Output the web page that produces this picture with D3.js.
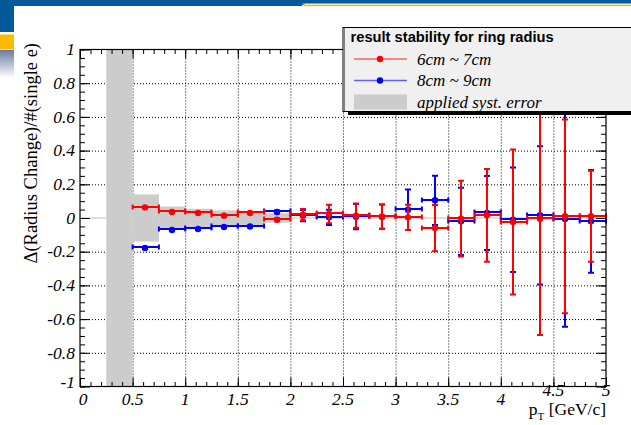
<!DOCTYPE html>
<meta charset="utf-8">
<script src="https://d3js.org/d3.v7.min.js"></script>
<style>
  body { margin: 0; background: #fff; }
  svg { display: block; }
</style>
<div id="chart"></div>
<script>

// bins in pT (lower edges, width 0.25) and mean pT of each bin
var binLo = [0.5, 0.75, 1.0, 1.25, 1.5, 1.75, 2.0, 2.25, 2.5, 2.75, 3.0, 3.25, 3.5, 3.75, 4.0, 4.25, 4.5, 4.75];
var binW = 0.25;
var ptMean = [0.62, 0.87, 1.12, 1.37, 1.62, 1.87, 2.12, 2.37, 2.62, 2.87, 3.12, 3.37, 3.62, 3.87, 4.12, 4.37, 4.61, 4.86];

// 6cm ~ 7cm
var red = [0.063, 0.036, 0.030, 0.014, 0.030, -0.010, 0.020, 0.024, 0.014, 0.008, 0.004, -0.060, -0.004, 0.016, -0.024, -0.004, 0.010, 0.010];
var redErr = [0.004, 0.004, 0.004, 0.004, 0.004, 0.008, 0.033, 0.055, 0.072, 0.072, 0.075, 0.137, 0.225, 0.275, 0.43, 0.69, 0.575, 0.27];
// 8cm ~ 9cm
var blue = [-0.178, -0.071, -0.065, -0.053, -0.050, 0.036, 0.014, 0.004, 0.008, 0.008, 0.049, 0.105, -0.020, 0.030, -0.010, 0.016, -0.006, -0.020];
var blueErr = [0.004, 0.004, 0.004, 0.004, 0.004, 0.008, 0.033, 0.045, 0.075, 0.072, 0.12, 0.146, 0.2, 0.22, 0.31, 0.41, 0.64, 0.305];

// applied systematic error band (step edges and half widths)
var sysEdges = [0.25, 0.5, 0.75, 1.0, 1.25, 1.5, 1.75, 2.0];
var sysVal = [1.0, 0.14, 0.068, 0.055, 0.045, 0.043, 0.028];

var xTicks = [0, 0.5, 1, 1.5, 2, 2.5, 3, 3.5, 4, 4.5, 5];
var yTicks = [-1, -0.8, -0.6, -0.4, -0.2, 0, 0.2, 0.4, 0.6, 0.8, 1];

var W = 631, H = 425;
var margin = {top: 49.5, right: 25, bottom: 38.5, left: 80};
var width = W - margin.left - margin.right,
    height = H - margin.top - margin.bottom;

var svg = d3.select("#chart").append("svg")
  .attr("width", W).attr("height", H);

// slide decoration
svg.append("rect").attr("x", 0).attr("y", 0).attr("width", 302).attr("height", 6).attr("fill", "#035a9b");
svg.append("rect").attr("x", 300).attr("y", 0).attr("width", 331).attr("height", 3.5).attr("fill", "#035a9b");
svg.append("path").attr("d", "M300,6 L306,3.5 L300,3.5 Z").attr("fill", "#035a9b");
svg.append("rect").attr("x", 304).attr("y", 4.6).attr("width", 327).attr("height", 1.6).attr("fill", "#f5b915");
svg.append("rect").attr("x", 0).attr("y", 0).attr("width", 14).attr("height", 32).attr("fill", "#035a9b");
svg.append("rect").attr("x", 0).attr("y", 34.5).attr("width", 14).attr("height", 15).attr("fill", "#fbb900");
var grad = svg.append("defs").append("linearGradient").attr("id", "fade")
  .attr("x1", 0).attr("y1", 0).attr("x2", 0).attr("y2", 1);
grad.append("stop").attr("offset", "0%").attr("stop-color", "#6a7aa0");
grad.append("stop").attr("offset", "100%").attr("stop-color", "#ffffff");
svg.append("rect").attr("x", 0).attr("y", 50).attr("width", 14).attr("height", 28).attr("fill", "url(#fade)");

var g = svg.append("g").attr("transform", "translate(" + margin.left + "," + margin.top + ")");

var x = d3.scaleLinear().domain([0, 5]).range([0, width]);
var y = d3.scaleLinear().domain([-1, 1]).range([height, 0]);

// grid
g.append("g").attr("class", "grid")
  .attr("transform", "translate(0," + height + ")")
  .call(d3.axisBottom(x).tickValues(xTicks.slice(1, -1)).tickSize(-height).tickFormat(""))
  .select(".domain").remove();
g.append("g").attr("class", "grid")
  .call(d3.axisLeft(y).tickValues(yTicks.filter(function (v) { return v !== 0 && Math.abs(v) < 1; })).tickSize(-width).tickFormat(""))
  .select(".domain").remove();
g.selectAll(".grid line").attr("stroke", "#555").attr("stroke-dasharray", "1,2").attr("stroke-width", 1);

// zero line
g.append("line").attr("x1", 0).attr("x2", width).attr("y1", y(0)).attr("y2", y(0))
  .attr("stroke", "#c0c0c0").attr("stroke-width", 1.2);

// syst band
var band = [];
for (var i = 0; i < sysVal.length; i++) band.push({x0: sysEdges[i], x1: sysEdges[i + 1], v: sysVal[i]});
g.append("g").selectAll("rect").data(band).enter().append("rect")
  .attr("x", function (d) { return x(d.x0); })
  .attr("width", function (d) { return x(d.x1) - x(d.x0); })
  .attr("y", function (d) { return y(d.v); })
  .attr("height", function (d) { return y(-d.v) - y(d.v); })
  .attr("fill", "#cccccc");

// data series (line positions snapped to whole pixels so overlapping bars stay opaque)
function drawSeries(vals, errs, color) {
  var pts = vals.map(function (v, i) {
    return {lo: binLo[i], hi: binLo[i] + binW, x: ptMean[i], y: v, e: errs[i]};
  });
  var s = g.append("g").attr("stroke", color).attr("stroke-width", 2).attr("fill", "none");
  var oy = margin.top % 1;
  s.selectAll(".h").data(pts).enter().append("path")
    .attr("d", function (d) {
      var yy = Math.round(y(d.y)) - oy, a = x(d.lo), b = x(d.hi);
      return "M" + a + "," + yy + "H" + b +
             "M" + a + "," + (yy - 2.5) + "V" + (yy + 2.5) +
             "M" + b + "," + (yy - 2.5) + "V" + (yy + 2.5);
    });
  s.selectAll(".v").data(pts).enter().append("path")
    .attr("d", function (d) {
      var xx = Math.round(x(d.x)), t = y(d.y + d.e), b = y(d.y - d.e);
      return "M" + xx + "," + t + "V" + b +
             "M" + (xx - 3) + "," + t + "H" + (xx + 3) +
             "M" + (xx - 3) + "," + b + "H" + (xx + 3);
    });
  g.append("g").selectAll("circle").data(pts).enter().append("circle")
    .attr("cx", function (d) { return Math.round(x(d.x)); })
    .attr("cy", function (d) { return y(d.y); })
    .attr("r", 3.2)
    .attr("fill", color);
}
drawSeries(blue, blueErr, "#0000ff");
drawSeries(red, redErr, "#ff0000");

// frame + inward ticks on all four sides
function ticks(axis, tr, minor, major, sizeMinor, sizeMajor) {
  var a1 = g.append("g").attr("transform", tr)
    .call(axis(minor).tickSize(sizeMinor).tickFormat(""));
  a1.select(".domain").remove();
  var a2 = g.append("g").attr("transform", tr)
    .call(axis(major).tickSize(sizeMajor).tickFormat(""));
  a2.select(".domain").remove();
}
var xMinor = d3.range(0, 51).map(function (i) { return i / 10; });
var yMinor = d3.range(0, 41).map(function (i) { return -1 + i * 0.05; });
ticks(function (v) { return d3.axisBottom(x).tickValues(v); }, "translate(0," + height + ")", xMinor, xTicks, -4.5, -9);
ticks(function (v) { return d3.axisTop(x).tickValues(v); }, "translate(0,0)", xMinor, xTicks, -4.5, -9);
ticks(function (v) { return d3.axisLeft(y).tickValues(v); }, "translate(0,0)", yMinor, yTicks, -5, -10);
ticks(function (v) { return d3.axisRight(y).tickValues(v); }, "translate(" + width + ",0)", yMinor, yTicks, -5, -10);
g.selectAll(".tick line").attr("stroke", "#000").attr("stroke-width", 1);

g.append("rect").attr("width", width).attr("height", height)
  .attr("fill", "none").attr("stroke", "#000").attr("stroke-width", 1.2);

// tick labels
var lab = g.append("g").attr("font-family", "'Liberation Serif', serif").attr("font-style", "italic")
  .attr("font-size", 17.5).attr("fill", "#000");
lab.selectAll(".xl").data(xTicks).enter().append("text")
  .attr("x", function (d) { return x(d) + (d === 0 ? 3 : 0); })
  .attr("y", function (d) { return height + (d === 4.5 || d === 5 ? 9 : 18); })
  .attr("text-anchor", "middle")
  .text(function (d) { return d; });
lab.selectAll(".yl").data(yTicks).enter().append("text")
  .attr("x", -5)
  .attr("y", function (d) { return y(d); })
  .attr("dy", function (d) { return d === -1 ? "0.1em" : "0.33em"; })
  .attr("text-anchor", "end")
  .text(function (d) { return d; });

// axis titles
var xt = g.append("text").attr("x", width).attr("y", height + 28)
  .attr("text-anchor", "end")
  .attr("font-family", "'Liberation Serif', serif").attr("font-size", 17.5);
xt.append("tspan").text("p");
xt.append("tspan").attr("font-size", 11).attr("dy", 5).text("T");
xt.append("tspan").attr("dy", -5).text(" [GeV/c]");

svg.append("text")
  .attr("transform", "translate(37,43) rotate(-90)")
  .attr("text-anchor", "end")
  .attr("font-family", "'Liberation Serif', serif").attr("font-size", 18.5)
  .text("\u0394(Radius Change)/#(single e)");

// legend
var lg = svg.append("g");
lg.append("rect").attr("x", 348).attr("y", 31).attr("width", 300).attr("height", 84).attr("fill", "#000");
lg.append("rect").attr("x", 343).attr("y", 27.5).attr("width", 300).attr("height", 84)
  .attr("fill", "#f0f0f0").attr("stroke", "#000").attr("stroke-width", 1);
lg.append("line").attr("x1", 344).attr("x2", 344).attr("y1", 28).attr("y2", 111)
  .attr("stroke", "#808080").attr("stroke-width", 2);
lg.append("text").attr("x", 350.5).attr("y", 42)
  .attr("font-family", "'Liberation Sans', Arial, sans-serif").attr("font-weight", "bold")
  .attr("font-size", 14.7).text("result stability for ring radius");

var entries = [
  {label: "6cm ~ 7cm", color: "#ff0000", kind: "line"},
  {label: "8cm ~ 9cm", color: "#0000ff", kind: "line"},
  {label: "applied syst. error", color: "#cccccc", kind: "box"}
];
entries.forEach(function (e, i) {
  var cy = 59 + i * 21.5;
  if (e.kind === "line") {
    lg.append("line").attr("x1", 354).attr("x2", 407).attr("y1", cy).attr("y2", cy)
      .attr("stroke", e.color).attr("stroke-width", 1.5).attr("stroke-opacity", 0.6);
    lg.append("circle").attr("cx", 380).attr("cy", cy).attr("r", 3.2).attr("fill", e.color);
  } else {
    lg.append("rect").attr("x", 354).attr("y", cy - 7.5).attr("width", 53).attr("height", 15).attr("fill", e.color);
  }
  lg.append("text").attr("x", 417).attr("y", cy + 5.5)
    .attr("font-family", "'Liberation Serif', serif").attr("font-style", "italic")
    .attr("font-size", 17).text(e.label);
});

</script>
